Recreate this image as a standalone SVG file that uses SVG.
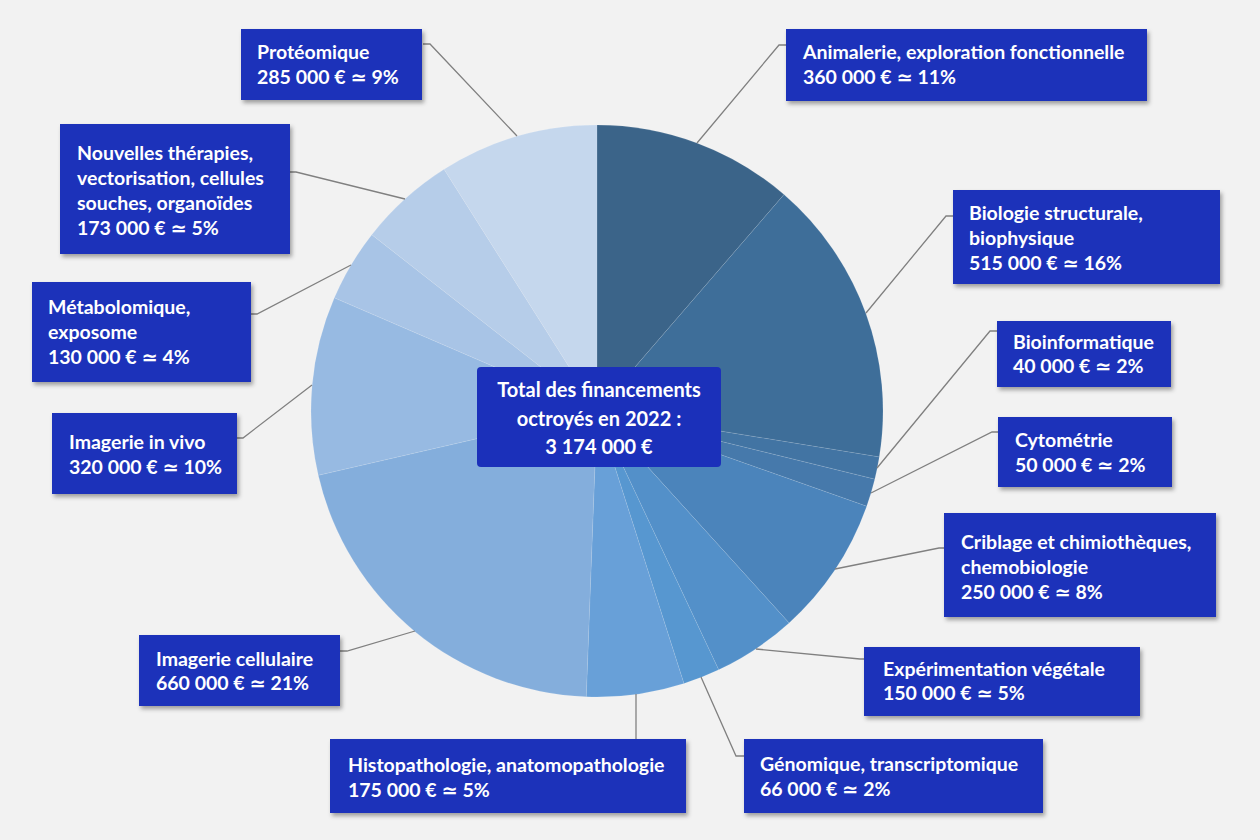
<svg xmlns="http://www.w3.org/2000/svg" width="1260" height="840" viewBox="0 0 1260 840">
<defs>
<filter id="sh" x="-10%" y="-10%" width="130%" height="140%">
<feDropShadow dx="2" dy="3" stdDeviation="2" flood-color="#000" flood-opacity="0.35"/>
</filter>
<style>
.box{fill:#1b30ba;filter:url(#sh)}
.t{font-family:Lato,"DejaVu Sans",sans-serif;font-weight:700;font-size:19.5px;fill:#fff}
.tc{font-family:Lato,"DejaVu Sans",sans-serif;font-weight:700;font-size:20px;fill:#fff;text-anchor:middle}
.c{fill:none;stroke:#808080;stroke-width:1.3}
.s{stroke:#fff;stroke-opacity:0.12;stroke-width:0.8}
</style>
</defs>
<rect width="1260" height="840" fill="#f2f2f2"/>
<g id="pie">
<path class="s" fill="#3b6489" d="M597,411 L597,125 A286,286 0 0 1 784.0,194.6 Z"/>
<path class="s" fill="#3e6e99" d="M597,411 L784.0,194.6 A286,286 0 0 1 879.28,456.94 Z"/>
<path class="s" fill="#4274a3" d="M597,411 L879.28,456.94 A286,286 0 0 1 874.77,479.13 Z"/>
<path class="s" fill="#4679ab" d="M597,411 L874.77,479.13 A286,286 0 0 1 866.68,506.24 Z"/>
<path class="s" fill="#4b84bb" d="M597,411 L866.68,506.24 A286,286 0 0 1 789.09,622.89 Z"/>
<path class="s" fill="#5390c9" d="M597,411 L789.09,622.89 A286,286 0 0 1 718.68,669.82 Z"/>
<path class="s" fill="#5797d0" d="M597,411 L718.68,669.82 A286,286 0 0 1 683.93,683.47 Z"/>
<path class="s" fill="#68a0d8" d="M597,411 L683.93,683.47 A286,286 0 0 1 586.25,696.80 Z"/>
<path class="s" fill="#84aedc" d="M597,411 L586.25,696.80 A286,286 0 0 1 318.32,475.28 Z"/>
<path class="s" fill="#97bae2" d="M597,411 L318.32,475.28 A286,286 0 0 1 334.35,297.83 Z"/>
<path class="s" fill="#a8c4e6" d="M597,411 L334.35,297.83 A286,286 0 0 1 371.79,234.71 Z"/>
<path class="s" fill="#b6cde9" d="M597,411 L371.79,234.71 A286,286 0 0 1 444.07,169.32 Z"/>
<path class="s" fill="#c5d7ed" d="M597,411 L444.07,169.32 A286,286 0 0 1 597,125 Z"/>
</g>
<g id="connectors">
<polyline class="c" points="423,44 430,44 517,136"/>
<polyline class="c" points="786,45 779,45 697,143"/>
<polyline class="c" points="953,216 946,216 866,313"/>
<polyline class="c" points="997,331 990,331 877,468"/>
<polyline class="c" points="998,432 992,432 871,493"/>
<polyline class="c" points="944,548 939,548 835,569"/>
<polyline class="c" points="864,659 860,659 756,649"/>
<polyline class="c" points="744,756 736,756 701,677"/>
<polyline class="c" points="636,694 636,739"/>
<polyline class="c" points="340,651 347,651 415,631"/>
<polyline class="c" points="237,438 243,438 312,385"/>
<polyline class="c" points="251,314 257,314 351,265"/>
<polyline class="c" points="290,172 296,172 405,199"/>
</g>
<g id="total">
<rect x="477" y="367" width="244" height="100" rx="4" fill="#1b30ba"/>
<text class="tc" x="599" y="397">Total des financements</text>
<text class="tc" x="599" y="426">octroyés en 2022 :</text>
<text class="tc" x="599" y="454">3 174 000 €</text>
</g>
<g id="proteomique">
<rect class="box" x="241" y="29" width="181" height="71"/>
<text class="t" x="257" y="59">Protéomique</text>
<text class="t" x="257" y="84">285 000 € ≃ 9%</text>
</g>
<g id="animalerie">
<rect class="box" x="786" y="29" width="361" height="72"/>
<text class="t" x="803" y="59">Animalerie, exploration fonctionnelle</text>
<text class="t" x="803" y="84">360 000 € ≃ 11%</text>
</g>
<g id="nouvelles">
<rect class="box" x="60" y="124" width="230" height="130"/>
<text class="t" x="77" y="160">Nouvelles thérapies,</text>
<text class="t" x="77" y="185">vectorisation, cellules</text>
<text class="t" x="77" y="210">souches, organoïdes</text>
<text class="t" x="77" y="235">173 000 € ≃ 5%</text>
</g>
<g id="biologie">
<rect class="box" x="953" y="190" width="267" height="94"/>
<text class="t" x="969" y="220">Biologie structurale,</text>
<text class="t" x="969" y="245">biophysique</text>
<text class="t" x="969" y="270">515 000 € ≃ 16%</text>
</g>
<g id="metabolomique">
<rect class="box" x="32" y="282" width="219" height="100"/>
<text class="t" x="48" y="314">Métabolomique,</text>
<text class="t" x="48" y="339">exposome</text>
<text class="t" x="48" y="364">130 000 € ≃ 4%</text>
</g>
<g id="bioinformatique">
<rect class="box" x="997" y="321" width="174" height="66"/>
<text class="t" x="1013" y="349">Bioinformatique</text>
<text class="t" x="1013" y="373">40 000 € ≃ 2%</text>
</g>
<g id="invivo">
<rect class="box" x="52" y="413" width="185" height="81"/>
<text class="t" x="69" y="449">Imagerie in vivo</text>
<text class="t" x="69" y="474">320 000 € ≃ 10%</text>
</g>
<g id="cytometrie">
<rect class="box" x="998" y="417" width="174" height="70"/>
<text class="t" x="1015" y="447">Cytométrie</text>
<text class="t" x="1015" y="472">50 000 € ≃ 2%</text>
</g>
<g id="criblage">
<rect class="box" x="944" y="513" width="272" height="104"/>
<text class="t" x="961" y="549">Criblage et chimiothèques,</text>
<text class="t" x="961" y="574">chemobiologie</text>
<text class="t" x="961" y="599">250 000 € ≃ 8%</text>
</g>
<g id="cellulaire">
<rect class="box" x="139" y="635" width="201" height="71"/>
<text class="t" x="156" y="666">Imagerie cellulaire</text>
<text class="t" x="156" y="690">660 000 € ≃ 21%</text>
</g>
<g id="vegetale">
<rect class="box" x="864" y="647" width="276" height="69"/>
<text class="t" x="883" y="676">Expérimentation végétale</text>
<text class="t" x="883" y="700">150 000 € ≃ 5%</text>
</g>
<g id="histopathologie">
<rect class="box" x="330" y="739" width="356" height="74"/>
<text class="t" x="348" y="772">Histopathologie, anatomopathologie</text>
<text class="t" x="348" y="797">175 000 € ≃ 5%</text>
</g>
<g id="genomique">
<rect class="box" x="744" y="739" width="299" height="74"/>
<text class="t" x="760" y="771">Génomique, transcriptomique</text>
<text class="t" x="760" y="796">66 000 € ≃ 2%</text>
</g>
</svg>
